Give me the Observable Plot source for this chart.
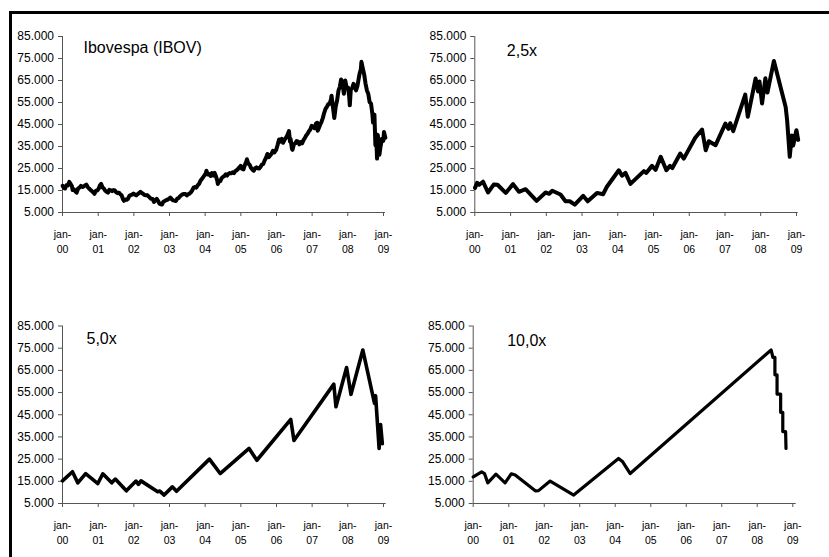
<!DOCTYPE html>
<html>
<head>
<meta charset="utf-8">
<script src="https://cdn.jsdelivr.net/npm/d3@7"></script>
<script src="https://cdn.jsdelivr.net/npm/@observablehq/plot@0.6"></script>
<style>
  html, body { margin: 0; padding: 0; background: #fff; }
  #chart { position: relative; width: 829px; height: 557px; background: #fff; overflow: hidden; font-family: "Liberation Sans", Arial, sans-serif; }
  #frame { position: absolute; left: 9px; top: 11px; right: -10px; bottom: -10px; border-top: 3px solid #000; border-left: 3px solid #000; }
  .panel { position: absolute; }
</style>
</head>
<body>
<div id="chart"><div id="frame"></div></div>
<script>
// Ibovespa close, roughly twice a month, Jan 2000 - Jan 2009
const ibovDates = [
  "2000-01-03","2000-01-14","2000-01-27","2000-02-10","2000-02-24","2000-03-10","2000-03-24","2000-04-07","2000-04-14","2000-04-28",
  "2000-05-12","2000-05-25","2000-06-09","2000-06-23","2000-07-07","2000-07-21","2000-08-04","2000-08-18","2000-09-01","2000-09-15",
  "2000-09-29","2000-10-13","2000-10-27","2000-11-10","2000-11-24","2000-12-08","2000-12-22","2001-01-05","2001-01-19","2001-01-31",
  "2001-02-14","2001-02-28","2001-03-14","2001-03-29","2001-04-11","2001-04-25","2001-05-09","2001-05-23","2001-06-06","2001-06-20",
  "2001-07-04","2001-07-18","2001-08-01","2001-08-15","2001-08-29","2001-09-12","2001-09-21","2001-10-05","2001-10-19","2001-11-01",
  "2001-11-16","2001-11-30","2001-12-14","2001-12-28","2002-01-11","2002-01-25","2002-02-08","2002-02-22","2002-03-08","2002-03-22",
  "2002-04-05","2002-04-19","2002-05-03","2002-05-17","2002-05-31","2002-06-14","2002-06-28","2002-07-12","2002-07-26","2002-08-09",
  "2002-08-23","2002-09-06","2002-09-20","2002-10-04","2002-10-16","2002-10-30","2002-11-13","2002-11-27","2002-12-11","2002-12-27",
  "2003-01-10","2003-01-24","2003-02-07","2003-02-21","2003-03-07","2003-03-21","2003-04-04","2003-04-17","2003-05-02","2003-05-16",
  "2003-05-30","2003-06-13","2003-06-27","2003-07-11","2003-07-25","2003-08-08","2003-08-22","2003-09-05","2003-09-19","2003-10-03",
  "2003-10-17","2003-10-31","2003-11-14","2003-11-28","2003-12-12","2003-12-30","2004-01-09","2004-01-14","2004-01-28","2004-02-11",
  "2004-02-25","2004-03-10","2004-03-24","2004-04-07","2004-04-21","2004-05-05","2004-05-10","2004-05-21","2004-06-04","2004-06-18",
  "2004-07-02","2004-07-16","2004-07-30","2004-08-13","2004-08-27","2004-09-10","2004-09-24","2004-10-08","2004-10-22","2004-11-05",
  "2004-11-19","2004-12-03","2004-12-17","2004-12-30","2005-01-14","2005-01-28","2005-02-11","2005-02-25","2005-03-04","2005-03-18",
  "2005-04-01","2005-04-15","2005-04-29","2005-05-13","2005-05-27","2005-06-10","2005-06-24","2005-07-08","2005-07-22","2005-08-05",
  "2005-08-19","2005-09-02","2005-09-16","2005-09-30","2005-10-14","2005-10-28","2005-11-11","2005-11-25","2005-12-09","2005-12-29",
  "2006-01-13","2006-01-27","2006-02-10","2006-02-24","2006-03-10","2006-03-24","2006-04-07","2006-04-21","2006-05-09","2006-05-19",
  "2006-05-26","2006-06-08","2006-06-14","2006-06-28","2006-07-12","2006-07-26","2006-08-09","2006-08-23","2006-09-06","2006-09-20",
  "2006-10-04","2006-10-18","2006-11-01","2006-11-15","2006-11-29","2006-12-13","2006-12-28","2007-01-12","2007-01-26","2007-02-09",
  "2007-02-22","2007-02-27","2007-03-09","2007-03-23","2007-04-06","2007-04-20","2007-05-04","2007-05-18","2007-06-01","2007-06-15",
  "2007-06-29","2007-07-13","2007-07-19","2007-08-02","2007-08-16","2007-08-30","2007-09-14","2007-09-28","2007-10-11","2007-10-25",
  "2007-11-08","2007-11-22","2007-12-06","2007-12-20","2008-01-04","2008-01-15","2008-01-22","2008-02-01","2008-02-15","2008-02-29",
  "2008-03-12","2008-03-26","2008-04-09","2008-04-30","2008-05-14","2008-05-20","2008-06-03","2008-06-17","2008-07-01","2008-07-15",
  "2008-07-29","2008-08-12","2008-08-26","2008-09-09","2008-09-16","2008-09-30","2008-10-10","2008-10-14","2008-10-22","2008-10-27",
  "2008-11-04","2008-11-20","2008-12-02","2008-12-16","2008-12-30","2009-01-06","2009-01-20"
];
const ibovValues = [
  17100,16200,15900,17400,17300,18900,18000,16900,15200,15500,
  14600,14000,15900,16300,17100,16600,16800,17300,17700,16600,
  15900,15300,14800,14200,13500,14900,15000,15800,17400,18000,
  16400,15900,14900,14400,14000,15300,15100,14700,15200,15000,
  14200,13800,14000,13300,12800,11000,10300,10900,10800,11200,
  12600,12900,13100,13600,13200,12800,13300,13800,14400,13900,
  13500,13000,12800,12900,12400,11700,11200,11100,9800,10500,
  11200,10300,9100,8700,8600,9900,10200,10600,10800,11200,
  11800,11000,10500,10400,10200,11300,11500,12300,12900,13300,
  13400,13400,12800,13300,13600,14200,15100,16300,16600,16300,
  17400,18000,19400,20200,21100,22200,23000,24000,22300,22500,
  21600,22900,21800,23000,21500,19400,18000,19100,19300,20600,
  21200,21600,22300,21800,22600,22900,22800,23300,22900,23800,
  24200,24800,25500,26200,24800,24600,26600,28100,29200,27200,
  26700,25300,24500,24000,25100,25500,25100,25000,25800,26800,
  27100,28700,29900,31600,30200,30900,31700,33000,32300,33500,
  35800,38200,37200,38500,36700,38000,38900,40000,42000,37200,
  38300,34000,33500,36000,36400,37500,37200,36000,37000,36400,
  37900,38800,40000,40800,41900,42700,44400,43900,43300,45400,
  45800,42200,43200,44800,46100,47900,50200,52100,53000,54200,
  54400,56500,58100,53000,48000,53000,56000,60500,62000,65500,
  63800,59000,65000,61900,61700,58000,53700,61000,61500,63500,
  62300,60500,62500,67900,70100,73500,70500,67800,63600,60500,
  59000,55200,54500,49800,45900,49500,35600,40800,35100,29500,
  40200,31300,35000,38500,37550,41600,39000
];

// Turning points of the 2,5x series
const x25Dates = [
  "2000-01-03","2000-01-25","2000-02-15","2000-03-25","2000-05-15","2000-07-12","2000-08-20","2000-11-12","2001-01-26","2001-03-27",
  "2001-06-03","2001-09-24","2001-12-24","2002-01-30","2002-03-03","2002-05-26","2002-07-16","2002-08-28","2002-10-19","2003-01-12",
  "2003-02-28","2003-06-03","2003-08-04","2003-09-12","2004-01-12","2004-02-14","2004-03-20","2004-05-10","2004-09-24","2004-10-18",
  "2004-12-16","2005-01-22","2005-03-15","2005-05-12","2005-06-18","2005-07-12","2005-10-01","2005-11-06","2006-03-03","2006-05-12",
  "2006-06-18","2006-07-20","2006-09-27","2007-01-05","2007-02-06","2007-02-24","2007-03-26","2007-07-27","2007-08-22","2007-11-10",
  "2007-12-05","2007-12-20","2008-01-15","2008-02-18","2008-03-10","2008-03-28","2008-05-15","2008-09-12","2008-09-27","2008-10-24",
  "2008-11-14","2008-11-28","2008-12-31","2009-01-18"
];
const x25Values = [
  16200,18500,17600,19000,14100,17700,17600,13900,17900,14400,
  15600,10300,14100,13500,14900,13200,10100,10100,8600,12600,
  10100,13900,13300,16700,24200,21700,23000,18000,23800,23000,
  26200,24400,30300,24200,26200,25200,31800,29500,39000,42700,
  33300,37400,35600,45400,43000,45600,42000,58600,48500,65900,
  60000,64500,54500,66000,59500,63500,73900,53000,47000,30300,
  40000,35400,42400,38000
];

// Turning points of the 5,0x series
const x50Dates = [
  "2000-01-01","2000-04-12","2000-06-06","2000-08-25","2000-12-28","2001-02-17","2001-05-19","2001-06-25","2001-10-16","2002-01-23",
  "2002-02-17","2002-03-15","2002-09-02","2002-09-24","2002-11-07","2003-01-30","2003-03-14","2004-02-14","2004-06-03","2005-03-26",
  "2005-06-14","2006-05-27","2006-06-29","2007-08-11","2007-09-02","2007-12-20","2008-02-03","2008-06-03","2008-10-01","2008-10-12",
  "2008-11-17","2008-12-02","2008-12-20"
];
const x50Values = [
  15200,19300,14300,18500,14000,18400,14300,16000,10700,15100,
  13600,15200,10300,10600,8800,12500,10500,25000,18500,29800,
  24500,42900,33400,58800,48600,66300,54200,74200,50100,53600,
  29800,40600,32000
];

// Turning points of the 10,0x series, ending in the stepped fall of 2008
const x100Dates = [
  "2000-01-01","2000-03-28","2000-04-26","2000-05-30","2000-08-22","2000-11-24","2001-01-26","2001-03-08","2001-10-01","2001-11-03",
  "2002-03-03","2002-10-31","2004-02-04","2004-03-18","2004-06-03","2008-05-23","2008-06-10","2008-07-01","2008-07-01","2008-07-23",
  "2008-07-23","2008-08-29","2008-08-29","2008-09-20","2008-09-20","2008-10-19","2008-10-23"
];
const x100Values = [
  17000,19300,18500,14300,18200,14300,18400,17800,10700,10800,
  15100,8800,25300,23800,18500,74200,70900,70900,63000,63000,
  54300,54300,46100,46100,37400,37400,29800
];

// Axis ticks and labels
const yTicks = [5000, 15000, 25000, 35000, 45000, 55000, 65000, 75000, 85000];
const yearTicks = ["2000-01-01","2001-01-01","2002-01-01","2003-01-01","2004-01-01","2005-01-01","2006-01-01","2007-01-01","2008-01-01","2009-01-01"];
const yearLabels = ["jan-\n00","jan-\n01","jan-\n02","jan-\n03","jan-\n04","jan-\n05","jan-\n06","jan-\n07","jan-\n08","jan-\n09"];
const panelTitles = ["Ibovespa (IBOV)", "2,5x", "5,0x", "10,0x"];

const parse = d3.isoParse;
const tickDates = yearTicks.map(parse);
const br = d3.formatLocale({decimal: ",", thousands: ".", grouping: [3], currency: ["R$", ""]});
const fmtY = br.format(",d");
const fmtX = d => yearLabels[tickDates.findIndex(t => +t === +d)];
const axisColor = "#555";
const font = "'Liberation Sans', Arial, sans-serif";

function panel(cfg) {
  const xs = cfg.dates.map(parse);
  const svg = Plot.plot({
    width: cfg.width,
    height: cfg.height,
    marginLeft: cfg.ml,
    marginRight: cfg.mr,
    marginTop: cfg.mt,
    marginBottom: cfg.mb,
    style: {fontFamily: font, background: "transparent", color: "#000", overflow: "visible"},
    x: {type: "utc", domain: [tickDates[0], tickDates[tickDates.length - 1]], range: cfg.xr},
    y: {domain: [5000, 85000]},
    marks: [
      Plot.axisY(yTicks, {tickFormat: fmtY, tickSize: 4, tickPadding: 4.5, fontSize: 12, stroke: axisColor}),
      Plot.axisX(tickDates, {tickFormat: fmtX, tickSize: 4, tickPadding: 11, fontSize: 10.5, lineHeight: 1.43, stroke: axisColor}),
      Plot.ruleY([5000], {stroke: axisColor}),
      Plot.ruleX([tickDates[0]], {stroke: axisColor}),
      Plot.line(cfg.values, {x: xs, y: cfg.values, stroke: "#000", strokeWidth: cfg.sw, strokeLinejoin: "round", strokeLinecap: "round"}),
      Plot.text([cfg.title], {frameAnchor: "top-left", textAnchor: "start", lineAnchor: "bottom", dx: cfg.tdx, dy: cfg.tdy, fontSize: 16, fill: "#000"})
    ]
  });
  svg.classList.add("panel");
  svg.style.left = cfg.left + "px";
  svg.style.top = cfg.top + "px";
  document.getElementById("chart").appendChild(svg);
}

panel({dates: ibovDates, values: ibovValues, title: panelTitles[0], left: 0, top: 0, width: 410, height: 278,
  ml: 62, mr: 25, mt: 36, mb: 66, xr: [62, 383], sw: 4, tdx: 21, tdy: 16.5});
panel({dates: x25Dates, values: x25Values, title: panelTitles[1], left: 410, top: 0, width: 419, height: 278,
  ml: 64.3, mr: 31.3, mt: 36, mb: 66, xr: [64.3, 386], sw: 4, tdx: 32, tdy: 19});
panel({dates: x50Dates, values: x50Values, title: panelTitles[2], left: 0, top: 278, width: 410, height: 279,
  ml: 62, mr: 24.3, mt: 47.5, mb: 54, xr: [62, 383], sw: 3.6, tdx: 24, tdy: 17.5});
panel({dates: x100Dates, values: x100Values, title: panelTitles[3], left: 410, top: 278, width: 419, height: 279,
  ml: 62.7, mr: 33.3, mt: 47.5, mb: 54, xr: [62.7, 382.3], sw: 3.2, tdx: 34, tdy: 19.5});
</script>
</body>
</html>
